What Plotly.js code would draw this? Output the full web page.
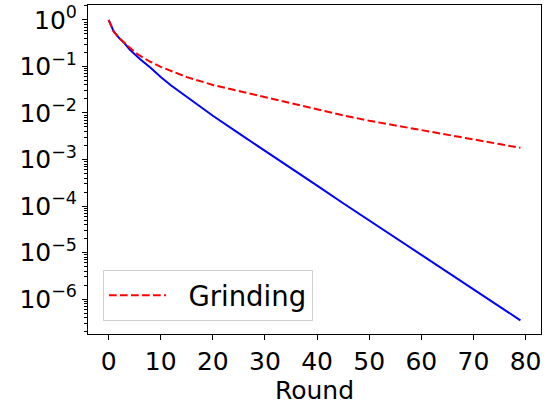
<!DOCTYPE html>
<html>
<head>
<meta charset="utf-8">
<script src="https://cdn.plot.ly/plotly-3.0.1.min.js"></script>
<style>html,body{margin:0;padding:0;background:#fff;}#chart{width:553px;height:408px;}</style>
</head>
<body>
<div id="chart"></div>
<script>
const rounds = [0, 1, 2, 3, 4, 5, 6, 8, 10, 12, 15, 20, 25, 30, 35, 40, 45, 50, 55, 60, 65, 70, 75, 79];
// Blue solid series (no legend entry)
const baselineValues = [1.0, 0.56, 0.41, 0.32, 0.234, 0.18, 0.145, 0.095, 0.059, 0.039, 0.0224, 0.0087,
  0.00363, 0.00155, 6.5e-4, 2.75e-4, 1.15e-4, 4.9e-5, 2.04e-5, 8.7e-6, 3.7e-6, 1.62e-6, 6.9e-7, 3.5e-7];
// Red dashed series "Grinding"
const grindingValues = [1.0, 0.56, 0.41, 0.325, 0.25, 0.204, 0.17, 0.126, 0.098, 0.079, 0.059, 0.040,
  0.0295, 0.0224, 0.0162, 0.012, 0.0089, 0.0068, 0.0054, 0.0043, 0.0034, 0.0027, 0.00214, 0.00178];
const grindingName = "Grinding";
const xTickVals = [0, 10, 20, 30, 40, 50, 60, 70, 80];
const yTickVals = [1, 1e-1, 1e-2, 1e-3, 1e-4, 1e-5, 1e-6];
const yTickText = ["10<sup>0</sup>", "10<sup>\u22121</sup>", "10<sup>\u22122</sup>", "10<sup>\u22123</sup>",
  "10<sup>\u22124</sup>", "10<sup>\u22125</sup>", "10<sup>\u22126</sup>"];

const minorVals = [];
for (let e = -7; e <= 0; e++) {
  for (let m = 2; m <= 9; m++) minorVals.push(m * Math.pow(10, e));
}

const font = {family: "DejaVu Sans, sans-serif", size: 25, color: "#000"};

const traces = [
  {x: rounds, y: baselineValues, type: "scatter", mode: "lines", showlegend: false,
   line: {color: "#0000ff", width: 2}},
  {x: rounds, y: grindingValues, type: "scatter", mode: "lines", name: "\u00a0\u00a0" + grindingName,
   line: {color: "#ff0000", width: 2, dash: "7.7px,3.3px"}}
];

const layout = {
  width: 553, height: 408,
  margin: {l: 87.5, r: 12.3, t: 5, b: 74, pad: 0},
  paper_bgcolor: "#fff", plot_bgcolor: "#fff",
  font: font,
  showlegend: true,
  legend: {x: 0.033, y: 0.04, xanchor: "left", yanchor: "bottom",
    bgcolor: "rgba(255,255,255,0.8)", bordercolor: "#d0d0d0", borderwidth: 1,
    font: {family: "DejaVu Sans, sans-serif", size: 27.5, color: "#000"}, itemwidth: 57},
  xaxis: {
    range: [-3.95, 82.95], tickmode: "array", tickvals: xTickVals,
    ticks: "outside", ticklen: 5, tickwidth: 1, tickcolor: "#000",
    showgrid: false, zeroline: false, showline: true, linecolor: "#000", linewidth: 1, mirror: true,
    tickfont: font,
    title: {text: "Round", font: font, standoff: 4}
  },
  yaxis: {
    type: "log", range: [-6.75, 0.32], tickmode: "array", tickvals: yTickVals, ticktext: yTickText,
    ticks: "outside", ticklen: 5, tickwidth: 1, tickcolor: "#000",
    minor: {tickmode: "array", tickvals: minorVals, ticks: "outside", ticklen: 3, tickwidth: 1, tickcolor: "#000", showgrid: false},
    showgrid: false, zeroline: false, showline: true, linecolor: "#000", linewidth: 1, mirror: true,
    tickfont: font
  }
};

Plotly.newPlot("chart", traces, layout, {displayModeBar: false, staticPlot: true});
</script>
</body>
</html>
